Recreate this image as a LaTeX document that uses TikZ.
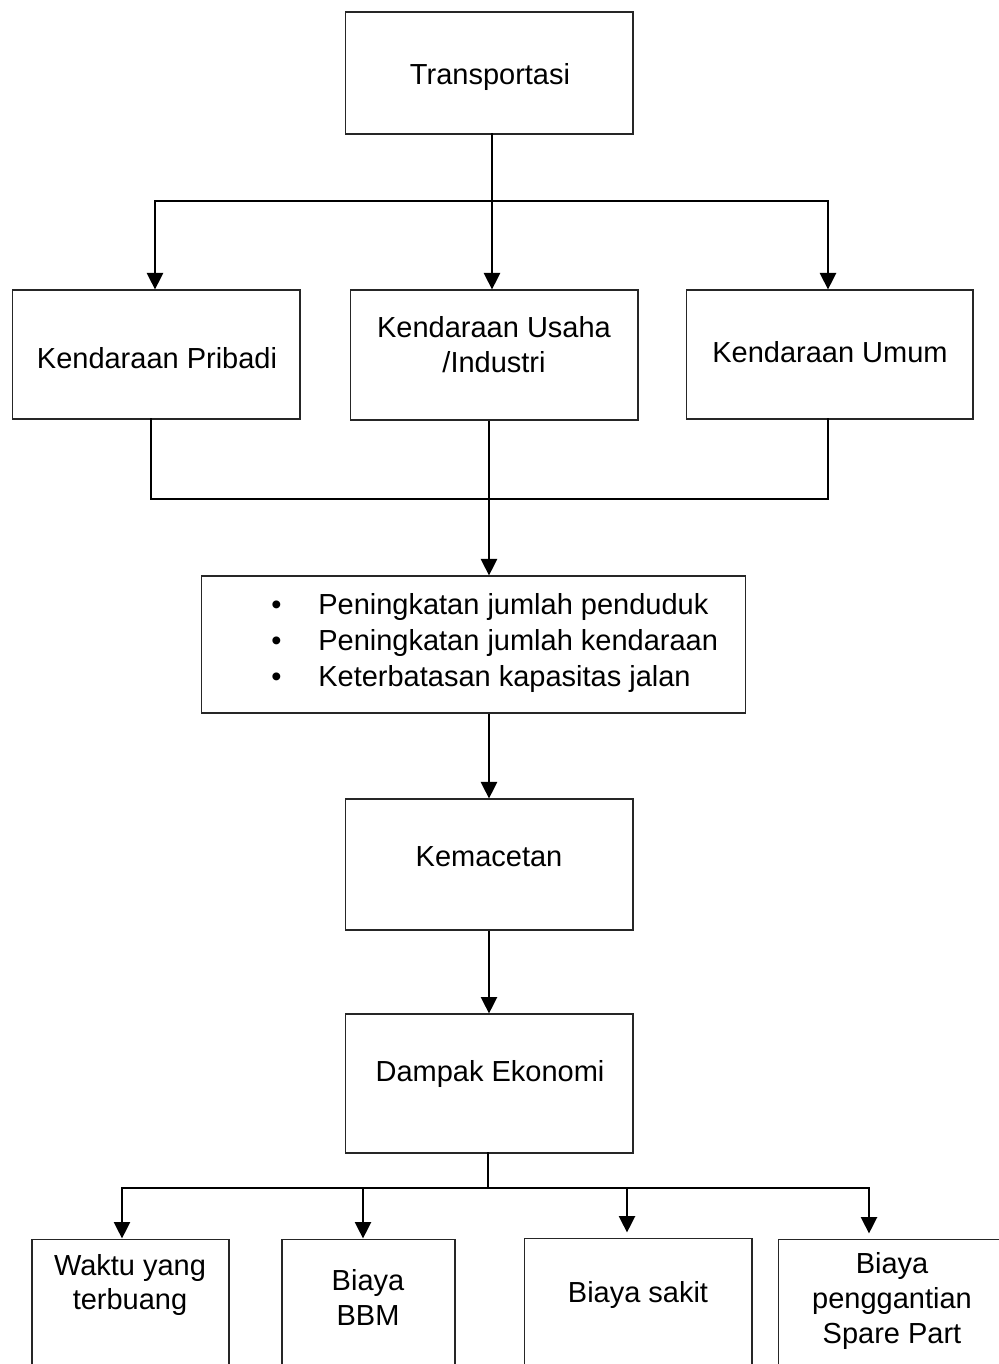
\documentclass[tikz,border=0pt]{standalone}
\usepackage{fontspec}
\setmainfont{Liberation Sans}
\usetikzlibrary{arrows.meta}
\begin{document}
\begin{tikzpicture}[x=0.02cm,y=-0.02cm,
  box/.style={draw=black!85, line width=0.6pt, rectangle, inner sep=0pt},
  txt/.style={font=\fontsize{16.5}{19.9}\selectfont, align=center, inner sep=0pt},
  line/.style={line width=1.5pt, black, line cap=rect},
  arr/.style={line width=1.5pt, black, -{Triangle[length=0.33cm,width=0.32cm]}}]
\useasboundingbox (0,0) rectangle (999,1364);
\clip (0,0) rectangle (999,1364);
% boxes
\node[box, minimum width=5.76cm, minimum height=2.44cm] (t) at (489,73) {};
\node[box, minimum width=5.76cm, minimum height=2.58cm] (p) at (156,354.5) {};
\node[box, minimum width=5.76cm, minimum height=2.60cm] (u) at (494,355) {};
\node[box, minimum width=5.74cm, minimum height=2.58cm] (m) at (829.5,354.5) {};
\node[box, minimum width=10.9cm, minimum height=2.74cm] (b) at (473.5,644.5) {};
\node[box, minimum width=5.76cm, minimum height=2.62cm] (k) at (489,864.5) {};
\node[box, minimum width=5.76cm, minimum height=2.78cm] (d) at (489,1083.5) {};
\node[box, minimum width=3.94cm, minimum height=2.82cm] (w) at (130.5,1309.5) {};
\node[box, minimum width=3.46cm, minimum height=2.82cm] (bbm) at (368.5,1309.5) {};
\node[box, minimum width=4.56cm, minimum height=2.84cm] (s) at (638,1309) {};
\node[box, minimum width=4.64cm, minimum height=2.82cm] (sp) at (894,1309.5) {};
% texts
\node[txt] (tt) at (490,77) {Transportasi};
\node[txt] (pt) at (157,358) {Kendaraan Pribadi};
\node[txt] (ut) at (494,345) {Kendaraan Usaha\\/Industri};
\node[txt] (mt) at (830,352) {Kendaraan Umum};
\node[txt, anchor=west, align=left, font=\fontsize{16.5}{20.3}\selectfont] (bt) at (271,643) {%
  \makebox[0.94cm][l]{•}Peningkatan jumlah penduduk\\
  \makebox[0.94cm][l]{•}Peningkatan jumlah kendaraan\\
  \makebox[0.94cm][l]{•}Keterbatasan kapasitas jalan};
\node[txt] (kt) at (489,857) {Kemacetan};
\node[txt] (dt) at (490,1074) {Dampak Ekonomi};
\node[txt] (wt) at (130,1285) {Waktu yang\\terbuang};
\node[txt] (bbmt) at (368,1297) {Biaya\\BBM};
\node[txt] (st) at (638,1295) {Biaya sakit};
\node[txt] (spt) at (892,1301) {Biaya\\penggantian\\Spare Part};
% top connectors
\coordinate (ja) at (492,201);
\coordinate (jaL) at (155,201);
\coordinate (jaR) at (828,201);
\draw[line] (t.south -| ja) -- (ja);
\draw[line] (jaL) -- (jaR);
\draw[arr] (jaL) -- (p.north -| jaL);
\draw[arr] (ja) -- (u.north -| ja);
\draw[arr] (jaR) -- (m.north -| jaR);
% middle connectors
\coordinate (jbL) at (151,499);
\coordinate (jbR) at (828,499);
\coordinate (jb) at (489,499);
\draw[line] (p.south -| jbL) -- (jbL) -- (jbR) -- (m.south -| jbR);
\draw[arr] (u.south -| jb) -- (b.north -| jb);
% lower chain
\coordinate (jk) at (489,713);
\draw[arr] (b.south -| jk) -- (k.north -| jk);
\draw[arr] (k.south -| jk) -- (d.north -| jk);
% bottom connectors
\coordinate (jc) at (488,1188);
\coordinate (jc1) at (122,1188);
\coordinate (jc2) at (363,1188);
\coordinate (jc3) at (627,1188);
\coordinate (jc4) at (869,1188);
\draw[line] (d.south -| jc) -- (jc);
\draw[line] (jc1) -- (jc4);
\draw[arr] (jc1) -- (w.north -| jc1);
\draw[arr] (jc2) -- (bbm.north -| jc2);
\draw[arr, shorten >=0.1cm] (jc3) -- (s.north -| jc3);
\draw[arr, shorten >=0.1cm] (jc4) -- (sp.north -| jc4);
\end{tikzpicture}
\end{document}
